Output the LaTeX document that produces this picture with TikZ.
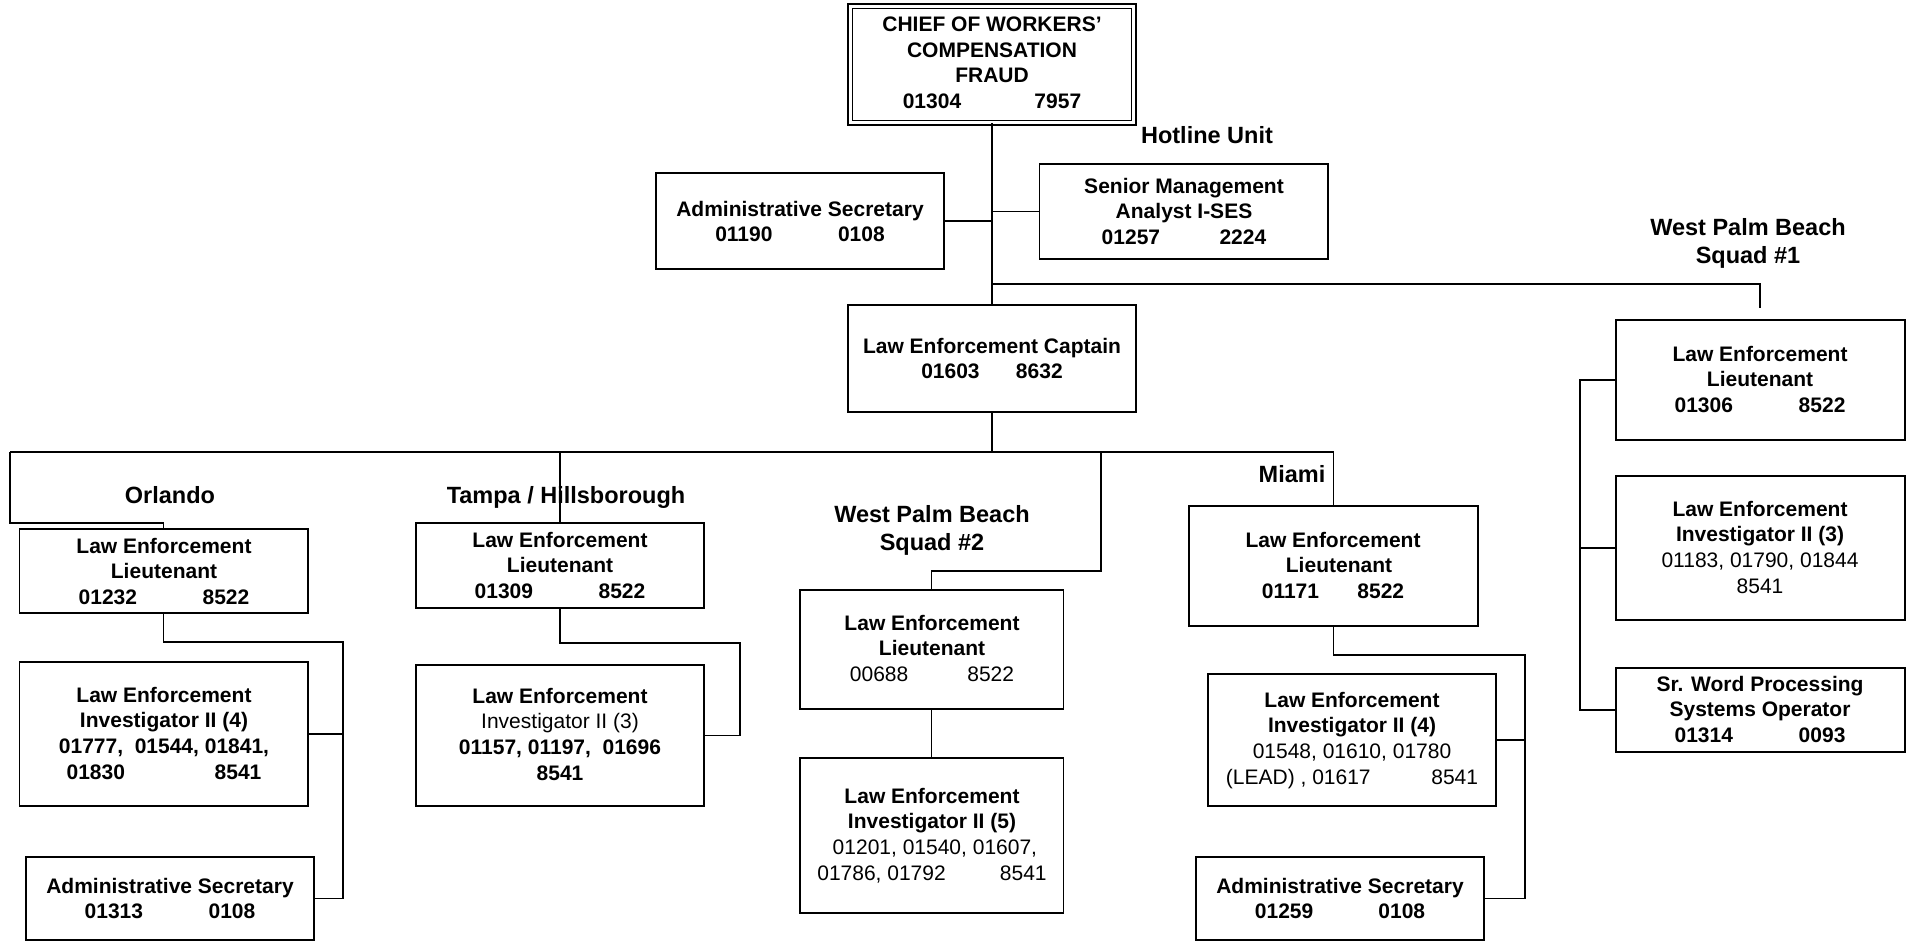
\documentclass[tikz,border=0pt]{standalone}
\usepackage{fontspec}
\setmainfont{Liberation Sans}
\newcommand\orgtextfont{\fontsize{21}{25.6}\selectfont\bfseries}
\newcommand\orglabelfont{\fontsize{23.5}{28.5}\selectfont\bfseries}
\tikzset{
  orgbox/.style={draw, line width=1.8pt, inner sep=0pt},
  chiefbox/.style={draw, double, double distance=3pt, line width=1.3pt, inner sep=0pt},
  boxtext/.style={align=center, inner sep=0pt, anchor=north, font=\orgtextfont},
  unitlabel/.style={align=center, inner sep=0pt, anchor=north, font=\orglabelfont},
  wire/.style={line width=1.4pt},
}
% box: name, centre x, centre y, width, height
\newcommand\orgbox[5]{\node[orgbox, minimum width=#4pt, minimum height=#5pt] (#1) at (#2,#3) {};}
% text block: name, centre x, first baseline y, lines
\newcommand\boxlines[4]{\node[boxtext] (#1) at (#2,#3-15.1) {#4};}
\newcommand\unitname[4]{\node[unitlabel] (#1) at (#2,#3-16.9) {#4};}
\begin{document}
\begin{tikzpicture}[x=1pt,y=-1pt]
\fill[white] (0,0) rectangle (1916,941);
\useasboundingbox (0,0) rectangle (1916,941);

% ---- boxes ----
\node[chiefbox, minimum width=283.5pt, minimum height=116.5pt] (chief) at (992,64.5) {};
\orgbox{sec1}{800}{221}{288}{96}
\orgbox{sma}{1183.75}{211.5}{288.5}{95}
\orgbox{capt}{992}{358.5}{288}{107}
\orgbox{orllt}{163.7}{571}{288.6}{84}
\orgbox{orlinv}{163.7}{734}{288.6}{144}
\orgbox{orlsec}{170}{898.5}{288}{83}
\orgbox{tpalt}{560}{565.5}{288}{85}
\orgbox{tpainv}{560}{735.5}{288}{141}
\orgbox{wpbtlt}{931.75}{649.5}{263.5}{119}
\orgbox{wpbtinv}{931.75}{835.5}{263.5}{155}
\orgbox{mialt}{1333.5}{566}{289}{120}
\orgbox{miainv}{1352}{740}{288}{132}
\orgbox{miasec}{1340}{898.5}{288}{83}
\orgbox{wpbolt}{1760.5}{380}{289}{120}
\orgbox{wpboinv}{1760.5}{548}{289}{144}
\orgbox{srw}{1760.5}{710}{289}{84}

% ---- junction points ----
\coordinate (hotj) at (992,284);
\coordinate (wpboend) at (1760,308);
\coordinate (busl) at (10,452);
\coordinate (busc) at (992,452);
\coordinate (orlturn) at (10,523);
\coordinate (wpbtdrop) at (1101,452);
\coordinate (wpbtturn) at (1101,571);
\coordinate (orlbus) at (343,642);
\coordinate (tpabus) at (740,643);
\coordinate (miabus) at (1525,655);
\coordinate (wpbobus) at (1580,380);

% ---- connectors ----
\draw[wire] (chief.south) -- (capt.north);
\draw[wire] (sec1.east) -- (sec1.east -| chief.south);
\draw[wire] (sma.west) -- (sma.west -| chief.south);
\draw[wire] (hotj) -| (wpboend);
\draw[wire] (capt.south) -- (busc);
\draw[wire] (busl) -- (busl -| mialt.north) -- (mialt.north);
\draw[wire] (busl) -- (orlturn) -| (orllt.north);
\draw[wire] (busl -| tpalt.north) -- (tpalt.north);
\draw[wire] (wpbtdrop) -- (wpbtturn) -| (wpbtlt.north);
\draw[wire] (orllt.south) |- (orlbus) |- (orlsec.east);
\draw[wire] (orlinv.east) -- (orlinv.east -| orlbus);
\draw[wire] (tpalt.south) |- (tpabus) |- (tpainv.east);
\draw[wire] (wpbtlt.south) -- (wpbtinv.north);
\draw[wire] (mialt.south) |- (miabus) |- (miasec.east);
\draw[wire] (miainv.east) -- (miainv.east -| miabus);
\draw[wire] (wpbolt.west) -- (wpbobus) |- (srw.west);
\draw[wire] (wpboinv.west) -- (wpboinv.west -| wpbobus);

% ---- unit names ----
\unitname{lhot}{1207}{143}{Hotline Unit}
\unitname{lwpbo}{1748}{235}{West Palm Beach\\Squad \#1}
\unitname{lorl}{170}{503}{Orlando}
\unitname{ltpa}{566}{503}{Tampa / Hillsborough}
\unitname{lwpbt}{932}{522}{West Palm Beach\\Squad \#2}
\unitname{lmia}{1292}{482}{Miami}

% ---- box texts ----
\boxlines{tchief}{992}{32}{CHIEF OF WORKERS’\\COMPENSATION\\FRAUD\\01304\hspace{3.49em}7957}
\boxlines{tsec1}{800}{216}{Administrative Secretary\\01190\hspace{3.12em}0108}
\boxlines{tsma}{1184}{193}{Senior Management\\Analyst I-SES\\01257\hspace{2.83em}2224}
\boxlines{tcapt}{992}{353}{Law Enforcement Captain\\01603\hspace{1.73em}8632}
\boxlines{torllt}{164}{553}{Law Enforcement\\Lieutenant\\01232\hspace{3.12em}8522}
\boxlines{torlinv}{164}{702}{Law Enforcement\\Investigator II (4)\\01777,\ \ 01544, 01841,\\01830\hspace{4.27em}8541}
\boxlines{torlsec}{170}{893}{Administrative Secretary\\01313\hspace{3.12em}0108}
\boxlines{ttpalt}{560}{547}{Law Enforcement\\Lieutenant\\01309\hspace{3.12em}8522}
\boxlines{ttpainv}{560}{703}{Law Enforcement\\{\mdseries Investigator II (3)}\\01157, 01197,\ \ 01696\\8541}
\boxlines{twpbtlt}{932}{630}{Law Enforcement\\Lieutenant\\{\mdseries 00688\hspace{2.81em}8522}}
\boxlines{twpbtinv}{932}{803}{Law Enforcement\\Investigator II (5)\\{\mdseries\ 01201, 01540, 01607,}\\{\mdseries 01786, 01792\hspace{2.58em}8541}}
\boxlines{tmialt}{1333}{547}{Law Enforcement\\\hspace{0.57em}Lieutenant\\01171\hspace{1.83em}8522}
\boxlines{tmiainv}{1352}{707}{Law Enforcement\\Investigator II (4)\\{\mdseries 01548, 01610, 01780}\\{\mdseries (LEAD) , 01617\hspace{2.89em}8541}}
\boxlines{tmiasec}{1340}{893}{Administrative Secretary\\01259\hspace{3.1em}0108}
\boxlines{twpbolt}{1760}{361}{Law Enforcement\\Lieutenant\\01306\hspace{3.13em}8522}
\boxlines{twpboinv}{1760}{516}{Law Enforcement\\Investigator II (3)\\{\mdseries 01183, 01790, 01844}\\{\mdseries 8541}}
\boxlines{tsrw}{1760}{691}{Sr. Word Processing\\Systems Operator\\01314\hspace{3.13em}0093}
\end{tikzpicture}
\end{document}
